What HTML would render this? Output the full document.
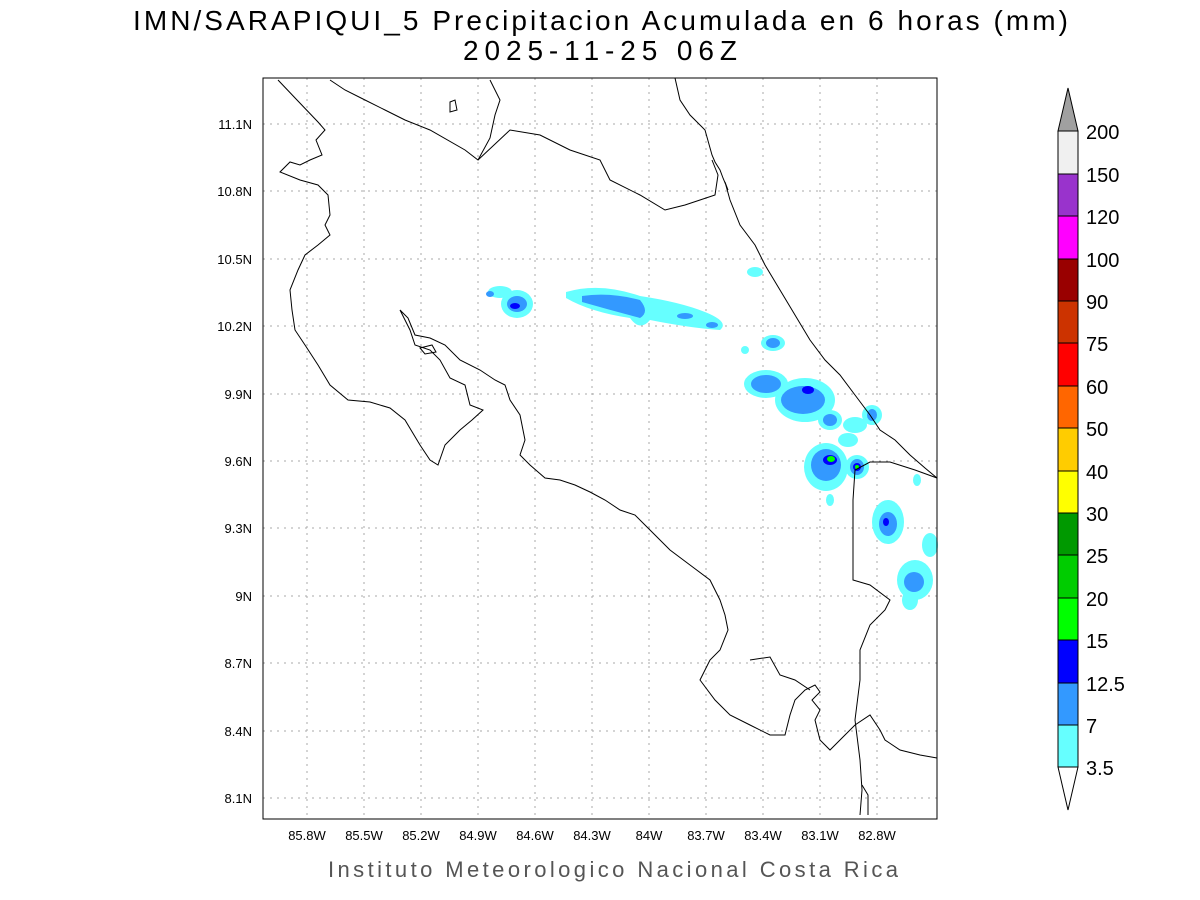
<!DOCTYPE html>
<html><head><meta charset="utf-8"><style>
html,body{margin:0;padding:0;background:#fff;}
svg{display:block;}
</style></head><body>
<svg width="1200" height="900" xmlns="http://www.w3.org/2000/svg" font-family="Liberation Sans, sans-serif">
<rect width="1200" height="900" fill="#fff"/>
<text x="133" y="30" font-size="28" fill="#000" textLength="935" lengthAdjust="spacing">IMN/SARAPIQUI_5 Precipitacion Acumulada en 6 horas (mm)</text>
<text x="463" y="60" font-size="28" fill="#000" textLength="274" lengthAdjust="spacing">2025-11-25 06Z</text>
<g stroke="#aaa" stroke-width="1" stroke-dasharray="2,5">
<line x1="307" y1="78" x2="307" y2="819"/><line x1="364" y1="78" x2="364" y2="819"/><line x1="421" y1="78" x2="421" y2="819"/><line x1="478" y1="78" x2="478" y2="819"/><line x1="535" y1="78" x2="535" y2="819"/><line x1="592" y1="78" x2="592" y2="819"/><line x1="649" y1="78" x2="649" y2="819"/><line x1="706" y1="78" x2="706" y2="819"/><line x1="763" y1="78" x2="763" y2="819"/><line x1="820" y1="78" x2="820" y2="819"/><line x1="877" y1="78" x2="877" y2="819"/>
<line x1="263" y1="124" x2="937" y2="124"/><line x1="263" y1="191" x2="937" y2="191"/><line x1="263" y1="259" x2="937" y2="259"/><line x1="263" y1="326" x2="937" y2="326"/><line x1="263" y1="394" x2="937" y2="394"/><line x1="263" y1="461" x2="937" y2="461"/><line x1="263" y1="528" x2="937" y2="528"/><line x1="263" y1="596" x2="937" y2="596"/><line x1="263" y1="663" x2="937" y2="663"/><line x1="263" y1="731" x2="937" y2="731"/><line x1="263" y1="798" x2="937" y2="798"/>
</g>
<g fill="#66ffff">
<ellipse cx="517" cy="304" rx="16" ry="14"/><ellipse cx="500" cy="292" rx="12" ry="6"/>
<path d="M566 292 Q600 282 640 296 Q680 302 705 312 Q730 322 720 330 Q690 328 650 320 Q640 332 630 318 Q590 312 566 298Z"/>
<ellipse cx="755" cy="272" rx="8" ry="5"/><ellipse cx="773" cy="343" rx="12" ry="8"/><ellipse cx="745" cy="350" rx="4" ry="4"/>
<ellipse cx="766" cy="384" rx="22" ry="14"/><ellipse cx="805" cy="400" rx="30" ry="22"/><ellipse cx="830" cy="420" rx="12" ry="10"/>
<ellipse cx="872" cy="415" rx="10" ry="10"/><ellipse cx="855" cy="425" rx="12" ry="8"/><ellipse cx="848" cy="440" rx="10" ry="7"/>
<ellipse cx="826" cy="467" rx="22" ry="24"/><ellipse cx="857" cy="467" rx="12" ry="12"/><ellipse cx="830" cy="500" rx="4" ry="6"/>
<ellipse cx="888" cy="522" rx="16" ry="22"/><ellipse cx="915" cy="580" rx="18" ry="20"/><ellipse cx="930" cy="545" rx="8" ry="12"/><ellipse cx="910" cy="600" rx="8" ry="10"/><ellipse cx="917" cy="480" rx="4" ry="6"/>
</g>
<g fill="#3399ff">
<ellipse cx="517" cy="304" rx="10" ry="8"/><ellipse cx="490" cy="294" rx="4" ry="3"/>
<path d="M582 296 Q610 292 640 300 Q650 312 640 318 Q610 310 582 302Z"/><ellipse cx="712" cy="325" rx="6" ry="3"/><ellipse cx="685" cy="316" rx="8" ry="3"/>
<ellipse cx="773" cy="343" rx="7" ry="5"/><ellipse cx="766" cy="384" rx="15" ry="9"/><ellipse cx="803" cy="400" rx="22" ry="14"/><ellipse cx="830" cy="420" rx="7" ry="6"/>
<ellipse cx="872" cy="415" rx="5" ry="6"/><ellipse cx="826" cy="465" rx="15" ry="16"/><ellipse cx="857" cy="467" rx="7" ry="8"/>
<ellipse cx="888" cy="524" rx="9" ry="12"/><ellipse cx="914" cy="582" rx="10" ry="10"/>
</g>
<g fill="#0000ff"><ellipse cx="515" cy="306" rx="5" ry="3"/><ellipse cx="808" cy="390" rx="6" ry="4"/><ellipse cx="830" cy="460" rx="7" ry="5"/><ellipse cx="857" cy="467" rx="4" ry="4"/><ellipse cx="886" cy="522" rx="3" ry="4"/></g>
<g fill="#00ff00"><ellipse cx="831" cy="459" rx="4" ry="3"/><ellipse cx="857" cy="467" rx="2" ry="2"/></g>
<g fill="none" stroke="#000" stroke-width="1">
<polyline points="278,80 297,100 318,122 325,130 316,140 322,155 310,160 300,165 290,162 280,172 300,180 318,185 328,195 330,215 325,225 330,235 318,245 305,255 298,270 290,290 292,310 295,330 305,345 318,365 330,385 348,400 370,402 390,408 405,420 420,445 430,460 438,465 445,445 460,430 472,420 483,410 470,405 465,385 450,378 440,360 430,350 415,345 410,330 400,310 408,318 415,335 430,338 445,345 460,360 480,370 495,380 505,385 510,400 520,415 525,440 520,455 530,465 545,478 560,480 575,485 590,492 605,500 620,510 635,515 650,530 670,550 690,565 710,580 720,600 725,615 728,630 720,650 710,660 700,680 715,700 730,715 750,725 770,735 785,735 790,715 795,700 805,690 815,685 820,692 812,700 820,710 815,720 820,740 830,750 840,740 855,725 870,715 880,730 885,740 900,750 920,755 937,758"/>
<polyline points="750,660 770,657 780,675 795,680 810,690"/>
<polygon points="420,348 432,345 436,352 425,354"/>
<polygon points="450,102 455,100 457,110 450,112"/>
<polyline points="675,78 680,100 690,115 705,130 712,155 715,162 720,170 723,178 728,190 725,182 730,200 740,225 755,245 765,265 780,290 795,315 810,340 825,360 840,375 855,395 870,415 880,430 895,440 910,455 925,468 937,478"/>
<polyline points="330,80 345,90 365,100 385,110 405,120 430,130 465,150 478,160 490,138 495,115 500,100 490,80"/>
<polyline points="478,160 510,130 540,135 570,150 600,160 610,180 640,195 665,210 685,205 700,200 715,195 718,175 712,160"/>
<polyline points="937,478 915,470 890,462 870,462 855,470 853,500 853,580 870,585 890,600 885,610 870,625 860,650 860,680 855,720 860,760 862,790 860,815"/>
<polyline points="868,815 868,795 862,785"/>
</g>
<rect x="263" y="78" width="674" height="741" fill="none" stroke="#000" stroke-width="1"/>
<g font-size="13" fill="#000">
<g text-anchor="end"><text x="252" y="129">11.1N</text><text x="252" y="196">10.8N</text><text x="252" y="264">10.5N</text><text x="252" y="331">10.2N</text><text x="252" y="399">9.9N</text><text x="252" y="466">9.6N</text><text x="252" y="533">9.3N</text><text x="252" y="601">9N</text><text x="252" y="668">8.7N</text><text x="252" y="736">8.4N</text><text x="252" y="803">8.1N</text></g>
<g text-anchor="middle"><text x="307" y="840">85.8W</text><text x="364" y="840">85.5W</text><text x="421" y="840">85.2W</text><text x="478" y="840">84.9W</text><text x="535" y="840">84.6W</text><text x="592" y="840">84.3W</text><text x="649" y="840">84W</text><text x="706" y="840">83.7W</text><text x="763" y="840">83.4W</text><text x="820" y="840">83.1W</text><text x="877" y="840">82.8W</text></g>
</g>
<text x="328" y="877" font-size="22" fill="#555" textLength="570" lengthAdjust="spacing">Instituto Meteorologico Nacional Costa Rica</text>
<g stroke="#000" stroke-width="1">
<polygon points="1058,131 1078,131 1068,88" fill="#a0a0a0"/>
<rect x="1058" y="131" width="20" height="43" fill="#f0f0f0"/>
<rect x="1058" y="174" width="20" height="42" fill="#9933cc"/>
<rect x="1058" y="216" width="20" height="43" fill="#ff00ff"/>
<rect x="1058" y="259" width="20" height="42" fill="#990000"/>
<rect x="1058" y="301" width="20" height="42" fill="#cc3300"/>
<rect x="1058" y="343" width="20" height="43" fill="#ff0000"/>
<rect x="1058" y="386" width="20" height="42" fill="#ff6600"/>
<rect x="1058" y="428" width="20" height="43" fill="#ffcc00"/>
<rect x="1058" y="471" width="20" height="42" fill="#ffff00"/>
<rect x="1058" y="513" width="20" height="42" fill="#009900"/>
<rect x="1058" y="555" width="20" height="43" fill="#00cc00"/>
<rect x="1058" y="598" width="20" height="42" fill="#00ff00"/>
<rect x="1058" y="640" width="20" height="43" fill="#0000ff"/>
<rect x="1058" y="683" width="20" height="42" fill="#3399ff"/>
<rect x="1058" y="725" width="20" height="42" fill="#66ffff"/>
<polygon points="1058,767 1078,767 1068,810" fill="#fff"/>
</g>
<g font-size="20" fill="#000">
<text x="1086" y="139">200</text><text x="1086" y="182">150</text><text x="1086" y="224">120</text><text x="1086" y="267">100</text><text x="1086" y="309">90</text><text x="1086" y="351">75</text><text x="1086" y="394">60</text><text x="1086" y="436">50</text><text x="1086" y="479">40</text><text x="1086" y="521">30</text><text x="1086" y="563">25</text><text x="1086" y="606">20</text><text x="1086" y="648">15</text><text x="1086" y="691">12.5</text><text x="1086" y="733">7</text><text x="1086" y="775">3.5</text>
</g>
</svg>
</body></html>
